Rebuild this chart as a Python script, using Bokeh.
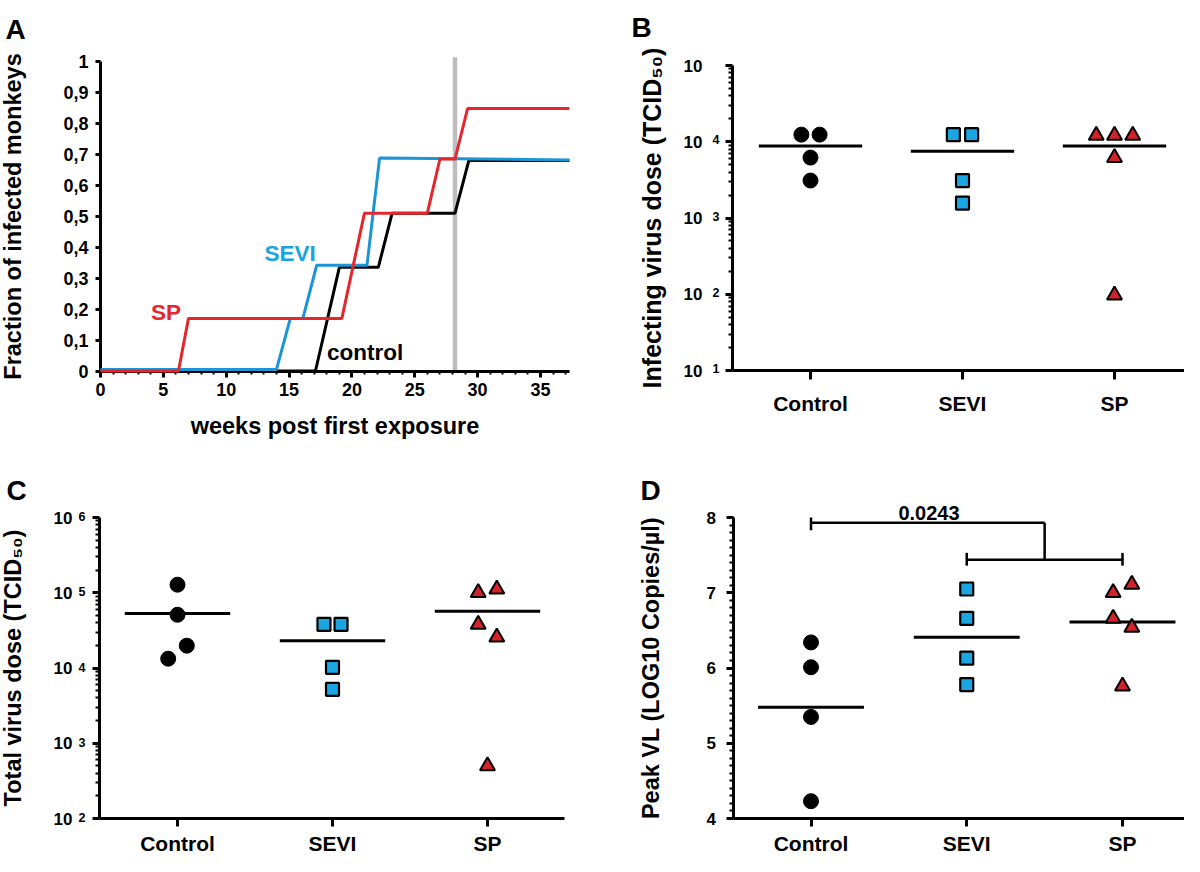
from bokeh.plotting import figure
from bokeh.models import Range1d, FixedTicker, Label
from bokeh.layouts import column, row
from bokeh.embed import file_html
from bokeh.resources import INLINE

FONT = "Liberation Sans"

# ---------------- Panel A data ----------------
weeks_sp = [0, 6.2, 7.0, 19.2, 21.0, 26.0, 27.0, 28.2, 29.2, 37.3]
frac_sp = [0, 0, 0.17, 0.17, 0.51, 0.51, 0.685, 0.685, 0.848, 0.848]
weeks_sevi = [0, 14.0, 15.1, 16.1, 17.2, 21.2, 22.2, 37.3]
frac_sevi = [0.005, 0.005, 0.17, 0.17, 0.342, 0.342, 0.688, 0.682]
weeks_control = [0, 17.1, 19.0, 22.1, 23.2, 28.2, 29.3, 37.3]
frac_control = [0, 0, 0.335, 0.335, 0.51, 0.51, 0.68, 0.68]
challenge_week = 28.2
a_yticks = [0, 0.1, 0.2, 0.3, 0.4, 0.5, 0.6, 0.7, 0.8, 0.9, 1]
a_ylabels = ["0", "0,1", "0,2", "0,3", "0,4", "0,5", "0,6", "0,7", "0,8", "0,9", "1"]
a_xticks = [0, 5, 10, 15, 20, 25, 30, 35]
a_xminor = list(range(0, 38))
a_xmax = 37.3

# ---------------- Panels B-D data ----------------
categories = ["Control", "SEVI", "SP"]

b_control = [12400, 12400, 6200, 3100]
b_sevi = [12400, 12400, 3100, 1570]
b_sp = [12100, 12100, 12100, 6200, 97]
b_means = [8800, 7500, 8800]

c_control = [128000, 51000, 19800, 13300]
c_sevi = [38000, 38000, 10200, 5200]
c_sp = [100000, 112000, 38000, 25600, 500]
c_means = [53000, 23000, 56600]

d_control = [6.34, 6.01, 5.35, 4.23]
d_sevi = [7.05, 6.66, 6.13, 5.78]
d_sp = [7.00, 7.11, 6.66, 6.54, 5.76]
d_means = [5.48, 6.41, 6.61]
d_pvalue = "0.0243"
bracket_top_y = 7.93
bracket_low_y = 7.44

log_exp_b = [1, 2, 3, 4, 5]
log_exp_c = [2, 3, 4, 5, 6]
d_yticks = [4, 5, 6, 7, 8]

# jitter offsets (layout only)
b_off = [[-0.06, 0.06, 0, 0], [-0.06, 0.06, 0, 0], [-0.12, 0, 0.12, 0, 0]]
c_off = [[0, 0, 0.06, -0.06], [-0.055, 0.055, 0, 0], [-0.06, 0.06, -0.06, 0.06, 0]]
d_off = [[0, 0, 0, 0], [0, 0, 0, 0], [-0.06, 0.06, -0.06, 0.06, 0]]

RED_LINE = "#e4262d"
BLUE_LINE = "#1b95d5"
SQ_FILL = "#1ba6e1"
TRI_FILL = "#d42229"


class Panel:
    """Figure whose frame fills the whole canvas; axes are placed at fixed locations.
    Geometry is given in picture pixels (layout origin = top-left of the picture)."""

    def __init__(self, fx, fy, w, h, xa_val, xa_px, xppu, ya_val, ya_px, yppu, log=False):
        self.xa_val, self.xa_px, self.xppu = xa_val, xa_px, xppu
        self.ya_val, self.ya_px, self.yppu = ya_val, ya_px, yppu
        self.log = log
        x0 = self.sx(fx)
        x1 = self.sx(fx + w)
        y0 = self.sy(fy + h)
        y1 = self.sy(fy)
        p = figure(width=w, height=h, x_range=Range1d(x0, x1), y_range=Range1d(y0, y1),
                   y_axis_type="log" if log else "linear",
                   output_backend="svg", toolbar_location=None,
                   min_border_left=0, min_border_right=0, min_border_top=0, min_border_bottom=0)
        p.grid.visible = False
        p.outline_line_color = None
        p.background_fill_color = "white"
        p.border_fill_color = "white"
        self.p = p
        self.x_end = x1

    def sx(self, px):
        return self.xa_val + (px - self.xa_px) / self.xppu

    def sy(self, py):
        v = self.ya_val + (self.ya_px - py) / self.yppu
        return 10 ** v if self.log else v

    def text(self, px, py, t, size, color="black", align="left"):
        self.p.add_layout(Label(x=self.sx(px), y=self.sy(py), text=t, text_color=color,
                                text_font=FONT, text_font_style="bold", text_font_size=size,
                                text_baseline="alphabetic", text_align=align))


def style_axis(ax, size="17px", title_size="23.5px"):
    ax.axis_line_width = 3
    ax.axis_line_color = "black"
    ax.major_tick_line_width = 3
    ax.major_tick_line_color = "black"
    ax.minor_tick_line_width = 2
    ax.minor_tick_line_color = "black"
    ax.major_tick_in = 0
    ax.minor_tick_in = 0
    ax.major_label_text_font = FONT
    ax.major_label_text_font_style = "bold"
    ax.major_label_text_font_size = size
    ax.major_label_text_color = "black"
    ax.axis_label_text_font = FONT
    ax.axis_label_text_font_style = "bold"
    ax.axis_label_text_font_size = title_size
    ax.axis_label_text_color = "black"


# ================= Panel A =================
A = Panel(0, 0, 592, 444, 0, 100, 12.571, 0, 370.5, 309.5)
pA = A.p
ax = pA.xaxis[0]
style_axis(ax, size="18px")
ax.fixed_location = 0
ax.bounds = (0, a_xmax)
ax.ticker = FixedTicker(ticks=a_xticks, minor_ticks=a_xminor)
ax.major_tick_out = 6
ax.minor_tick_out = 3
ax.major_label_standoff = 6
ax.axis_label = "weeks post first exposure"
ax.axis_label_standoff = 13
ay = pA.yaxis[0]
style_axis(ay, size="18px")
ay.fixed_location = 0
ay.bounds = (0, 1)
ay.ticker = FixedTicker(ticks=a_yticks, minor_ticks=[])
ay.major_label_overrides = dict(zip(a_yticks, a_ylabels))
ay.major_tick_out = 5
ay.major_label_standoff = 7
ay.axis_label = "Fraction of infected monkeys"
ay.axis_label_standoff = 34

pA.segment(x0=[challenge_week], x1=[challenge_week], y0=[0], y1=[A.sy(56.7)],
           line_color="#bdbdbd", line_width=4.5)
pA.line(weeks_control, frac_control, line_color="black", line_width=3, level="overlay")
pA.line(weeks_sevi, frac_sevi, line_color=BLUE_LINE, line_width=3, level="overlay")
pA.line(weeks_sp, frac_sp, line_color=RED_LINE, line_width=3, level="overlay")

A.text(150.6, 312, "SP", "22.5px", RED_LINE)
A.text(264, 253, "SEVI", "22.5px", "#1aa3de")
A.text(326.4, 352, "control", "22.5px")
A.text(5, 29, "A", "28px")


# ================= helpers for dot plots =================
def dot_panel(p, groups, offsets, means, sizes=(15, 13, 15)):
    xs0 = [i + 1 - 0.34 for i in range(3)]
    xs1 = [i + 1 + 0.34 for i in range(3)]
    p.segment(x0=xs0, x1=xs1, y0=means, y1=means, line_color="black", line_width=3)
    markers = ["circle", "square", "triangle"]
    fills = ["black", SQ_FILL, TRI_FILL]
    lws = [1, 2.2, 2]
    for i, (vals, offs) in enumerate(zip(groups, offsets)):
        xs = [i + 1 + o for o in offs]
        p.scatter(xs, vals, marker=markers[i], size=sizes[i], fill_color=fills[i],
                  line_color="black", line_width=lws[i])


def cat_xaxis(P, yloc, xb0, xb1, standoff, tick_out=9):
    ax = P.p.xaxis[0]
    style_axis(ax, size="21px")
    ax.fixed_location = yloc
    ax.bounds = (xb0, xb1)
    ax.ticker = FixedTicker(ticks=[1, 2, 3], minor_ticks=[])
    ax.major_label_overrides = {1: categories[0], 2: categories[1], 3: categories[2]}
    ax.major_tick_out = tick_out
    ax.major_label_standoff = standoff


def log_yaxis(P, xloc, exps, standoff, title, title_std, title_size):
    ax = P.p.yaxis[0]
    style_axis(ax, size="17px", title_size=title_size)
    ticks = [10.0 ** k for k in exps]
    minors = [m * 10.0 ** k for k in exps[:-1] for m in range(2, 10)]
    ax.fixed_location = xloc
    ax.bounds = (ticks[0], ticks[-1])
    ax.ticker = FixedTicker(ticks=ticks, minor_ticks=minors)
    ax.major_label_overrides = {t: "10" for t in ticks}
    ax.major_tick_out = 7
    ax.minor_tick_out = 4
    ax.major_label_standoff = standoff
    ax.axis_label = title
    ax.axis_label_standoff = title_std


# ================= Panel B =================
B = Panel(592, 0, 592, 444, 1, 810, 152, 1, 370, 76.25, log=True)
cat_xaxis(B, 10, B.sx(732), B.x_end, 12)
log_yaxis(B, B.sx(732), log_exp_b, 23, "Infecting virus dose (TCID\u2085\u2080)", 15, "25px")
dot_panel(B.p, [b_control, b_sevi, b_sp], b_off, b_means)
for k in log_exp_b[:-1]:
    B.text(712, B.ya_px - (k - 1) * B.yppu - 2, str(k), "12.5px")
B.text(631, 27, "B", "28px")

# ================= Panel C =================
C = Panel(0, 444, 592, 412, 1, 177, 155, 2, 818, 75.25, log=True)
cat_xaxis(C, 100, C.sx(99), C.sx(564), 5, 8)
log_yaxis(C, C.sx(99), log_exp_c, 20, "Total virus dose (TCID\u2085\u2080)", 25, "23.5px")
dot_panel(C.p, [c_control, c_sevi, c_sp], c_off, c_means)
for k in log_exp_c:
    C.text(78, C.ya_px - (k - 2) * C.yppu - 1, str(k), "12.5px")
C.text(6, 490, "C", "28px")

# ================= Panel D =================
D = Panel(592, 444, 592, 412, 1, 810.5, 155.75, 4, 818, 75.25)
cat_xaxis(D, 4, D.sx(732.5), D.x_end, 5, 8)
axd = D.p.yaxis[0]
style_axis(axd, size="17px")
axd.fixed_location = D.sx(732.5)
axd.bounds = (4, 8)
axd.ticker = FixedTicker(ticks=d_yticks, minor_ticks=[4 + i / 10 for i in range(41)])
axd.major_tick_out = 7
axd.minor_tick_out = 4
axd.major_label_standoff = 10
axd.axis_label = "Peak VL (LOG10 Copies/\u00b5l)"
axd.axis_label_standoff = 40
dot_panel(D.p, [d_control, d_sevi, d_sp], d_off, d_means)
# significance bracket
D.p.segment(x0=[1, 2.5, 2, 1, 2, 3], x1=[2.5, 2.5, 3, 1, 2, 3],
            y0=[bracket_top_y, bracket_top_y, bracket_low_y, 7.83, 7.36, 7.36],
            y1=[bracket_top_y, bracket_low_y, bracket_low_y, 8.0, 7.53, 7.53],
            line_color="black", line_width=2.5)
D.text(928.5, 512, d_pvalue, "20px", align="center")
D.text(640, 490, "D", "28px")

layout = column(row(A.p, B.p), row(C.p, D.p))
open("out.html", "w").write(file_html(layout, INLINE))
